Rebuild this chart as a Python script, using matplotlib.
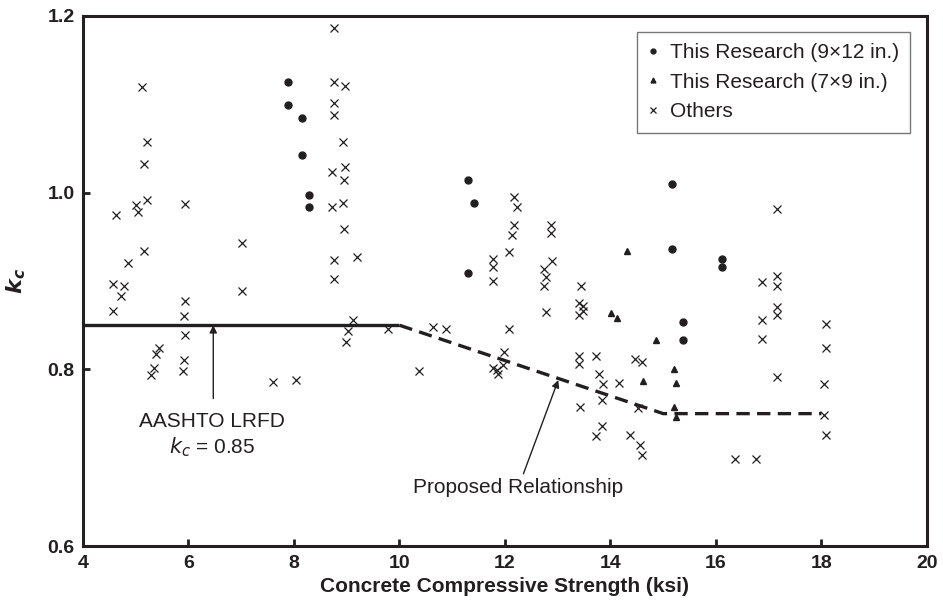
import matplotlib
matplotlib.use('Agg')
import matplotlib.pyplot as plt

plt.rcParams['font.family'] = ['Liberation Sans', 'DejaVu Sans']
INK = '#231f20'

# This Research (9x12 in.)
r912_x = [7.88, 7.88, 8.16, 8.16, 8.28, 8.28, 11.30, 11.41, 11.30, 15.16, 15.16, 16.11, 16.11, 15.38, 15.38]
r912_y = [1.125, 1.099, 1.084, 1.043, 0.997, 0.984, 1.014, 0.988, 0.909, 1.010, 0.936, 0.925, 0.916, 0.854, 0.833]

# This Research (7x9 in.)
r79_x = [14.31, 14.01, 14.12, 14.87, 14.61, 15.21, 15.24, 15.21, 15.24]
r79_y = [0.934, 0.864, 0.858, 0.833, 0.787, 0.800, 0.785, 0.758, 0.746]

# Others
others_x = [5.12, 5.21, 5.16, 5.21, 5.00, 5.04, 4.62, 5.93, 7.01, 5.16, 4.86, 4.57, 4.78, 4.73,
            7.01, 5.93, 4.56, 5.92, 5.93, 5.45, 5.38, 5.92, 5.35, 5.29, 5.89, 7.60,
            8.76, 8.75, 8.96, 8.76, 8.76, 8.92, 8.73, 8.96, 8.94, 8.73, 8.92, 8.94, 9.20, 8.75,
            8.75, 9.12, 9.03, 8.99, 9.78, 10.63, 10.89, 10.37, 8.03,
            12.17, 12.23, 12.17, 12.14, 12.87, 12.87, 12.08, 11.78, 11.78, 11.78, 12.90, 12.74,
            12.77, 12.74, 12.77, 12.07, 11.98, 11.78, 11.84, 11.87, 11.97,
            13.45, 13.40, 13.47, 13.40, 13.47, 13.40, 13.40, 13.72, 13.78, 13.86, 14.46, 14.60,
            14.17, 13.43, 13.84, 14.53, 13.84, 13.72, 14.37, 14.56, 14.59, 16.37, 16.76,
            17.16, 16.88, 17.16, 17.16, 17.16, 17.16, 16.88, 16.88, 18.08, 18.08, 17.16, 18.05,
            18.05, 18.08]
others_y = [1.120, 1.057, 1.033, 0.992, 0.986, 0.978, 0.975, 0.987, 0.943, 0.934, 0.921, 0.897, 0.894, 0.883,
            0.889, 0.878, 0.866, 0.861, 0.839, 0.824, 0.817, 0.811, 0.802, 0.794, 0.798, 0.786,
            1.186, 1.125, 1.121, 1.102, 1.088, 1.057, 1.023, 1.029, 1.014, 0.984, 0.988, 0.959, 0.927, 0.924,
            0.902, 0.856, 0.843, 0.831, 0.846, 0.848, 0.846, 0.798, 0.788,
            0.995, 0.984, 0.963, 0.952, 0.964, 0.954, 0.933, 0.925, 0.916, 0.900, 0.923, 0.914,
            0.905, 0.894, 0.865, 0.846, 0.820, 0.802, 0.799, 0.795, 0.805,
            0.894, 0.875, 0.872, 0.862, 0.866, 0.815, 0.806, 0.815, 0.795, 0.784, 0.812, 0.808,
            0.785, 0.757, 0.765, 0.756, 0.736, 0.725, 0.726, 0.715, 0.703, 0.699, 0.699,
            0.982, 0.899, 0.906, 0.894, 0.871, 0.862, 0.856, 0.835, 0.851, 0.824, 0.792, 0.783,
            0.749, 0.726]

aashto_x = [4, 10]
aashto_y = [0.85, 0.85]
proposed_x = [10, 15, 18]
proposed_y = [0.85, 0.75, 0.75]

fig = plt.figure(figsize=(9.43, 6.13), dpi=100)
ax = fig.add_axes([0.088, 0.109, 0.895, 0.865])

ax.plot(aashto_x, aashto_y, '-', color=INK, lw=2.4, solid_capstyle='butt', zorder=2)
ax.plot(proposed_x, proposed_y, '--', color=INK, lw=2.4, dashes=(4, 2.2), zorder=2)

ax.plot(r912_x, r912_y, 'o', color=INK, ms=5, ls='none', label='This Research (9\u00d712 in.)', zorder=3)
ax.plot(r79_x, r79_y, '^', color=INK, ms=5, ls='none', label='This Research (7\u00d79 in.)', zorder=3)
ax.plot(others_x, others_y, 'x', color=INK, ms=6, mew=0.9, ls='none', label='Others', zorder=3)

ax.annotate('', xy=(6.47, 0.85), xytext=(6.47, 0.767),
            arrowprops=dict(arrowstyle='-|>', color=INK, lw=1.0, mutation_scale=11, shrinkA=0, shrinkB=0))
ax.text(6.45, 0.741, 'AASHTO LRFD', ha='center', va='center', fontsize=15, color=INK)
ax.text(6.45, 0.712, r'$\mathit{k_c}$ = 0.85', ha='center', va='center', fontsize=15, color=INK)

ax.annotate('', xy=(13.01, 0.788), xytext=(12.35, 0.682),
            arrowprops=dict(arrowstyle='-|>', color=INK, lw=1.0, mutation_scale=11, shrinkA=0, shrinkB=0))
ax.text(10.26, 0.666, 'Proposed Relationship', ha='left', va='center', fontsize=15, color=INK)

ax.set_xlim(4, 20)
ax.set_ylim(0.6, 1.2)
ax.set_xticks([4, 6, 8, 10, 12, 14, 16, 18, 20])
ax.set_yticks([0.6, 0.8, 1.0, 1.2])
ax.set_yticklabels(['0.6', '0.8', '1.0', '1.2'])
ax.tick_params(direction='in', length=5, width=2, colors=INK, labelsize=14, pad=6)
for lab in ax.get_xticklabels() + ax.get_yticklabels():
    lab.set_fontweight('bold')
for s in ax.spines.values():
    s.set_linewidth(2.2)
    s.set_color(INK)

ax.set_xlabel('Concrete Compressive Strength (ksi)', fontsize=15, fontweight='bold', color=INK, labelpad=4)
ax.set_ylabel(r'$\mathbfit{k_c}$', fontsize=16, color=INK, labelpad=14)

leg = ax.legend(loc='upper right', bbox_to_anchor=(0.980, 0.970), borderaxespad=0, fontsize=15,
                frameon=True, fancybox=False, handlelength=0.4, handletextpad=0.6, markerscale=0.7,
                borderpad=0.55, labelspacing=0.5)
leg.get_frame().set_edgecolor('#555555')
leg.get_frame().set_linewidth(1.0)
for t in leg.get_texts():
    t.set_color(INK)

plt.savefig('out.png', dpi=100)
